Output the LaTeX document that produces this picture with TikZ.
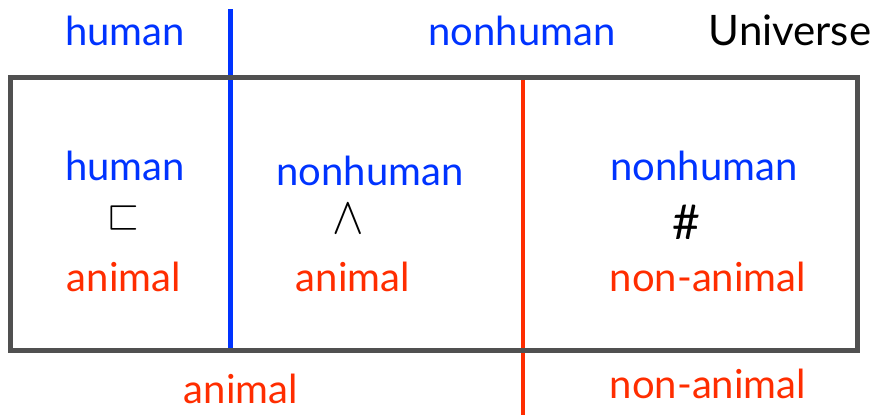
\documentclass[tikz,border=0pt]{standalone}
\usepackage{amssymb}
\usepackage{fontspec}
\setmainfont{Lato}
\definecolor{setblue}{RGB}{0,51,255}
\definecolor{setred}{RGB}{255,45,0}
\definecolor{boxgray}{RGB}{80,80,80}
\begin{document}
\begin{tikzpicture}[x=1pt,y=-1pt,
  lbl/.style={anchor=base,inner sep=0pt,font=\fontsize{40}{44}\selectfont},
  bluelbl/.style={lbl,text=setblue},
  redlbl/.style={lbl,text=setred},
  blacklbl/.style={lbl,text=black},
  sym/.style={anchor=center,inner sep=0pt},
  divider/.style={line width=4.5pt},
  frame/.style={draw=boxgray,line width=5pt}]
\useasboundingbox (0,0) rectangle (874,415);

% dividing lines: human / nonhuman and animal / non-animal
\coordinate (htop) at (230.5,9);
\coordinate (hbot) at (230.5,350);
\coordinate (atop) at (523,77);
\coordinate (abot) at (523,415);
\draw[divider,setblue] (htop) -- (hbot);
\draw[divider,setred] (atop) -- (abot);

% the universe
\draw[frame] (10.5,77) rectangle (857.5,350);

% labels above the frame
\node[bluelbl] (humanTop) at (125,45) {human};
\node[bluelbl] (nonhumanTop) at (522,45) {nonhuman};
\node[blacklbl,font=\fontsize{42}{46}\selectfont] (universe) at (790,45) {Universe};

% left region
\node[bluelbl] (humanL) at (125,180) {human};
\node[sym,font=\fontsize{42}{46}\selectfont] (subsetL) at (124,218) {$\sqsubset$};
\node[redlbl] (animalL) at (124,291) {animal};

% middle region
\node[bluelbl] (nonhumanM) at (370,185) {nonhuman};
\node[sym,font=\fontsize{24}{28}\selectfont] (wedgeM) at (348,219) {\scalebox{1.9}[2.1]{$\wedge$}};
\node[redlbl] (animalM) at (353,291) {animal};

% right region
\node[bluelbl] (nonhumanR) at (704,180) {nonhuman};
\node[sym,font=\fontsize{48}{52}\selectfont] (hashR) at (686,222) {\#};
\node[redlbl] (nonanimalR) at (708,291) {non-animal};

% labels below the frame
\node[redlbl] (animalB) at (241,403) {animal};
\node[redlbl] (nonanimalB) at (708,398) {non-animal};
\end{tikzpicture}
\end{document}
